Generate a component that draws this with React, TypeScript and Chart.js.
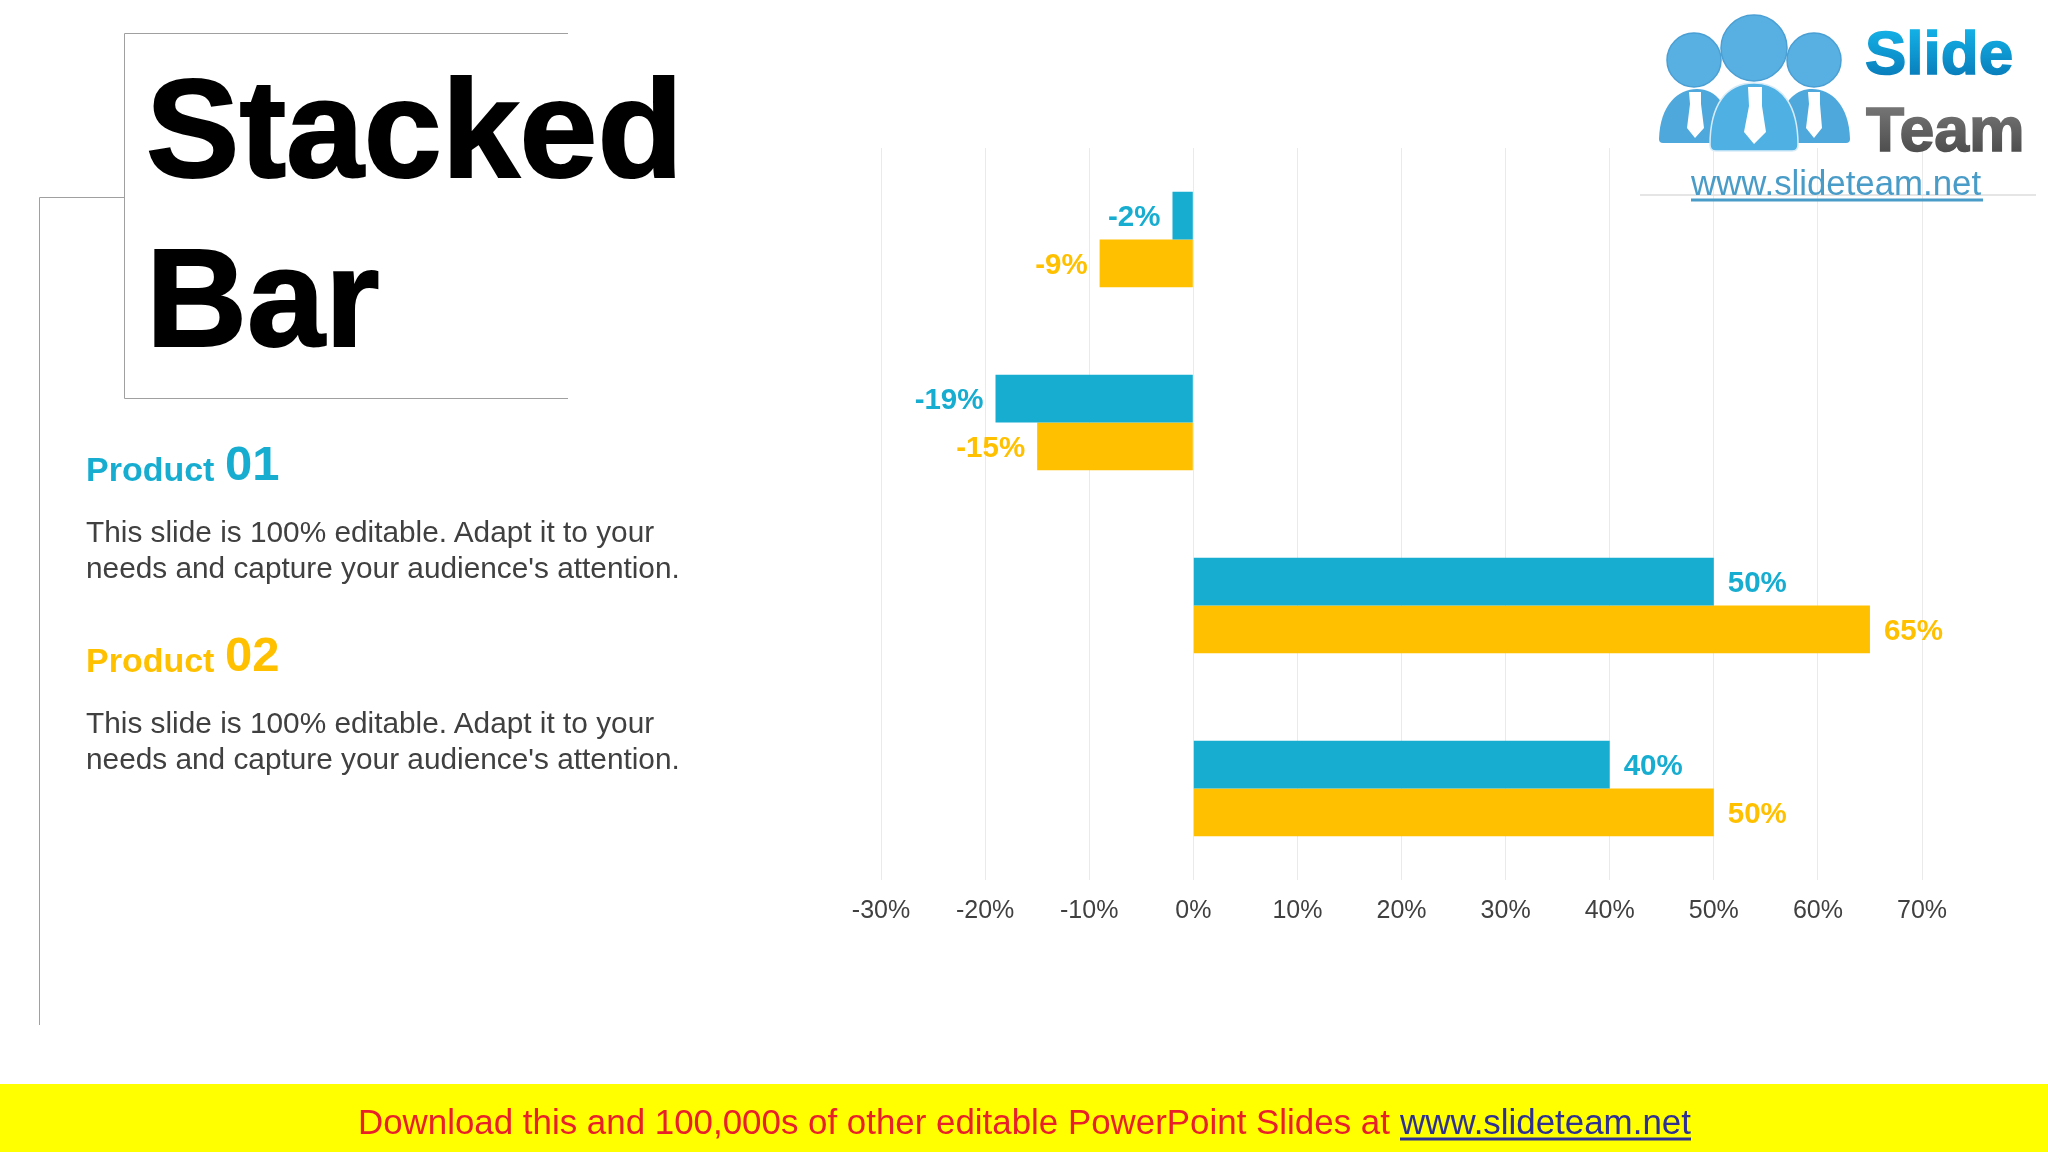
import { useEffect, useRef } from "react";
import { Chart, registerables } from "chart.js";

Chart.register(...registerables);

const categories = ["A", "B", "C", "D"];
const product01 = [-2, -19, 50, 40];
const product02 = [-9, -15, 65, 50];
const seriesNames = ["Product 01", "Product 02"];
const bodyLines = [
  "This slide is 100% editable. Adapt it to your",
  "needs and capture your audience's attention.",
];

const BLUE = "#17ADD1";
const AMBER = "#FFC000";
const SANS = '"Liberation Sans", Arial, sans-serif';

// prints the value just past the end of each bar
const barLabelPlugin = {
  id: "barLabels",
  afterDatasetsDraw(chart: Chart) {
    const { ctx } = chart;
    ctx.save();
    ctx.font = `bold 29.5px ${SANS}`;
    ctx.textBaseline = "middle";
    chart.data.datasets.forEach((ds, i) => {
      ctx.fillStyle = ds.backgroundColor as string;
      chart.getDatasetMeta(i).data.forEach((bar, j) => {
        const v = ds.data[j] as number;
        ctx.textAlign = v < 0 ? "right" : "left";
        ctx.fillText(`${v}%`, bar.x + (v < 0 ? -12 : 14), bar.y + 2);
      });
    });
    ctx.restore();
  },
};

function BarChart() {
  const ref = useRef<HTMLCanvasElement>(null);

  useEffect(() => {
    if (!ref.current) return;
    const chart = new Chart(ref.current, {
      type: "bar",
      data: {
        labels: categories,
        datasets: [
          { label: seriesNames[0], data: product01, backgroundColor: BLUE },
          { label: seriesNames[1], data: product02, backgroundColor: AMBER },
        ],
      },
      options: {
        indexAxis: "y",
        animation: false,
        responsive: false,
        devicePixelRatio: 1,
        layout: { padding: { left: 881, right: 126, top: 148, bottom: 212 } },
        datasets: { bar: { categoryPercentage: 0.522, barPercentage: 1 } },
        plugins: {
          legend: { display: false },
          tooltip: { enabled: false },
        },
        scales: {
          x: {
            min: -30,
            max: 70,
            afterFit(scale) {
              scale.height = 60;
              scale.paddingLeft = 0;
              scale.paddingRight = 0;
            },
            grid: { color: "#EAEAEA", lineWidth: 1, drawTicks: false },
            border: { display: false },
            ticks: {
              stepSize: 10,
              padding: 16,
              maxRotation: 0,
              color: "#404040",
              font: { family: SANS, size: 25 },
              callback: (v) => `${v}%`,
            },
          },
          y: { display: false },
        },
      },
      plugins: [barLabelPlugin],
    });
    return () => chart.destroy();
  }, []);

  return (
    <canvas
      ref={ref}
      width={2048}
      height={1152}
      style={{ position: "absolute", left: 0, top: 0, width: 2048, height: 1152 }}
    />
  );
}

function Logo() {
  return (
    <g>
      <defs>
        <linearGradient id="slide" x1="0" y1="0" x2="0" y2="1">
          <stop offset="0" stopColor="#16BDF0" />
          <stop offset="1" stopColor="#0672B2" />
        </linearGradient>
        <linearGradient id="team" x1="0" y1="0" x2="0" y2="1">
          <stop offset="0" stopColor="#808080" />
          <stop offset="1" stopColor="#444444" />
        </linearGradient>
      </defs>
      <path d="M1659 139 C1660 105 1678 89 1697 89 C1716 89 1730 105 1735 143 H1663 Q1659 143 1659 139 Z" fill="#4FA8DC" />
      <path d="M1850 139 C1849 105 1831 89 1812 89 C1793 89 1779 105 1774 143 H1846 Q1850 143 1850 139 Z" fill="#4FA8DC" />
      <circle cx={1694} cy={60} r={27} fill="#58B0E2" stroke="#4A9FD4" strokeWidth={1.5} />
      <circle cx={1814} cy={60} r={27} fill="#58B0E2" stroke="#4A9FD4" strokeWidth={1.5} />
      <circle cx={1754} cy={48} r={33} fill="#58B0E2" stroke="#4A9FD4" strokeWidth={1.5} />
      <path d="M1710 145 Q1710 151 1716 151 H1792 Q1798 151 1798 145 C1798 105 1782 83 1754 83 C1726 83 1710 105 1710 145 Z" fill="#4FB0E4" stroke="#D8ECF8" strokeWidth={1.5} />
      <path d="M1689 92 H1701 V104 L1704 128 L1695 138 L1687 128 L1690 104 Z" fill="#FFFFFF" />
      <path d="M1808 92 H1820 V104 L1822 128 L1814 138 L1806 128 L1809 104 Z" fill="#FFFFFF" />
      <path d="M1748 87 H1762 V106 L1766 132 L1754 144 L1744 132 L1749 106 Z" fill="#FFFFFF" />
      <text x={1865} y={74} fontFamily={SANS} fontSize={62} fontWeight="bold" fill="url(#slide)" stroke="url(#slide)" strokeWidth={1.5}>Slide</text>
      <text x={1866} y={151} fontFamily={SANS} fontSize={62.5} fontWeight="bold" fill="url(#team)" stroke="url(#team)" strokeWidth={1.5}>Team</text>
      <line x1={1640} y1={195} x2={2036} y2={195} stroke="#DDDDDD" strokeWidth={1.5} />
      <text x={1691} y={195} fontFamily={SANS} fontSize={34.8} fill="#4A9CC8">www.slideteam.net</text>
      <line x1={1691} y1={200} x2={1983} y2={200} stroke="#4A9CC8" strokeWidth={3} />
    </g>
  );
}

function ProductBlock({ name, color, y }: { name: string; color: string; y: number }) {
  const [word, num] = name.split(" ");
  return (
    <g fontFamily={SANS}>
      <text x={86} y={y + 1} fill={color} fontWeight="bold" fontSize={34}>{word}</text>
      <text x={225} y={y} fill={color} fontWeight="bold" fontSize={49}>{num}</text>
      <text x={86} y={y + 62} fill="#404040" fontSize={29.8}>{bodyLines[0]}</text>
      <text x={86} y={y + 98} fill="#404040" fontSize={29.8}>{bodyLines[1]}</text>
    </g>
  );
}

function Slide() {
  return (
    <svg
      width={2048}
      height={1152}
      viewBox="0 0 2048 1152"
      style={{ position: "absolute", left: 0, top: 0 }}
    >
      <path d="M568 33.5 H124.5 V398.5 H568" fill="none" stroke="#A0A0A0" strokeWidth={1} />
      <path d="M124 197.5 H39.5 V1025" fill="none" stroke="#A0A0A0" strokeWidth={1} />
      <text x={146} y={177} fontFamily={SANS} fontSize={140} fontWeight="bold" fill="#000000" stroke="#000000" strokeWidth={2}>Stacked</text>
      <text x={146} y={346} fontFamily={SANS} fontSize={140} fontWeight="bold" fill="#000000" stroke="#000000" strokeWidth={2}>Bar</text>
      <ProductBlock name={seriesNames[0]} color={BLUE} y={480} />
      <ProductBlock name={seriesNames[1]} color={AMBER} y={671} />
      <Logo />
      <rect x={0} y={1084} width={2048} height={68} fill="#FFFF00" />
      <text x={358} y={1134} fontFamily={SANS} fontSize={34.9} fill="#E8202A">
        Download this and 100,000s of other editable PowerPoint Slides at
      </text>
      <text x={1400} y={1134} fontFamily={SANS} fontSize={34.9} fill="#2E3192">www.slideteam.net</text>
      <line x1={1400} y1={1139} x2={1691} y2={1139} stroke="#2E3192" strokeWidth={3} />
    </svg>
  );
}

export default function App() {
  return (
    <div style={{ position: "fixed", left: 0, top: 0, width: 2048, height: 1152, background: "#FFFFFF", overflow: "hidden" }}>
      <BarChart />
      <Slide />
    </div>
  );
}
